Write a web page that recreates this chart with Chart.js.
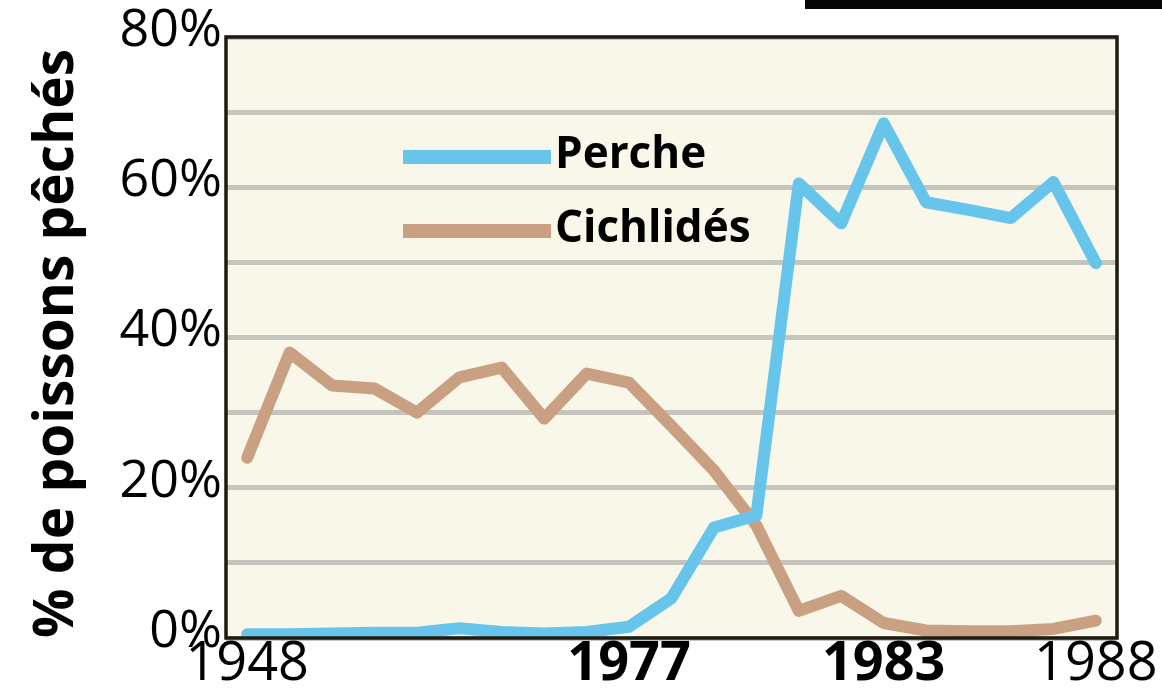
<!DOCTYPE html>
<html>
<head>
<meta charset="utf-8">
<script src="https://cdn.jsdelivr.net/npm/chart.js@4"></script>
<style>
  html, body { margin: 0; padding: 0; background: #fff; }
  #wrap { position: relative; width: 1162px; height: 688px; }
  #bar { position: absolute; left: 805px; top: 0; width: 357px; height: 9px; background: #060606; }
</style>
</head>
<body>
<div id="wrap">
  <canvas id="fishChart" width="1162" height="688"></canvas>
  <div id="bar"></div>
</div>
<script>
// x categories (only some years are labelled on the original)
const years = ['1948', '', '', '', '', '', '', '', '', '1977', '1978', '1979', '1980', '1981', '1982', '1983', '1984', '1985', '1986', '1987', '1988'];
const shownYears = ['1948', '1977', '1983', '1988'];
const boldYears = ['1977', '1983'];

// % of fish caught
const perche = [0.5, 0.5, 0.6, 0.7, 0.7, 1.3, 0.8, 0.6, 0.8, 1.5, 5.3, 14.7, 16.3, 60.5, 55.2, 68.5, 58, 57, 55.9, 60.7, 49.9];
const cichlides = [24, 38, 33.6, 33.2, 30, 34.7, 36, 29.2, 35.2, 34, 28.2, 22.3, 15, 3.6, 5.6, 2, 1, 0.9, 0.9, 1.2, 2.3];

const yTicks = [0, 20, 40, 60, 80];

const FONT = "'Open Sans', 'DejaVu Sans', sans-serif";

// cream background + black frame round the plot
const plotFrame = {
  id: 'plotFrame',
  beforeDraw(chart) {
    const { ctx, chartArea: a } = chart;
    ctx.save();
    ctx.fillStyle = '#f9f7e9';
    ctx.fillRect(a.left, a.top, a.right - a.left, a.bottom - a.top);
    ctx.restore();
  },
  afterDatasetsDraw(chart) {
    const { ctx, chartArea: a } = chart;
    ctx.save();
    ctx.strokeStyle = '#201a10';
    ctx.lineWidth = 3.5;
    ctx.strokeRect(a.left, a.top, a.right - a.left, a.bottom - a.top);
    ctx.restore();
  }
};

// legend sits inside the plot, thick line then bold label
const inlineLegend = {
  id: 'inlineLegend',
  afterDraw(chart, args, opts) {
    const ctx = chart.ctx;
    ctx.save();
    chart.data.datasets.forEach((ds, i) => {
      const y = opts.y[i];
      ctx.strokeStyle = ds.borderColor;
      ctx.lineWidth = 14;
      ctx.lineCap = 'butt';
      ctx.beginPath();
      ctx.moveTo(opts.x0, y);
      ctx.lineTo(opts.x1, y);
      ctx.stroke();
      ctx.fillStyle = '#000';
      ctx.font = 'bold 44px ' + FONT;
      ctx.textBaseline = 'middle';
      ctx.textAlign = 'left';
      ctx.fillText(ds.label, opts.x1 + 4, y - 2);
    });
    ctx.restore();
  }
};

const data = {
  labels: years,
  datasets: [{
    label: 'Perche',
    data: perche,
    borderColor: '#67c5eb',
  }, {
    label: 'Cichlidés',
    data: cichlides,
    borderColor: '#c9a182',
  }]
};

const config = {
  type: 'line',
  data: data,
  options: {
    responsive: false,
    animation: false,
    devicePixelRatio: 1,
    layout: { padding: { top: 37, right: 45, left: 0, bottom: 0 } },
    elements: {
      line: { borderWidth: 12, tension: 0, borderCapStyle: 'round', borderJoinStyle: 'round' },
      point: { radius: 0 }
    },
    plugins: {
      legend: { display: false },
      tooltip: { enabled: false },
      inlineLegend: { x0: 403, x1: 551, y: [157, 231] }
    },
    scales: {
      x: {
        offset: true,
        grid: { display: false, drawTicks: false },
        border: { display: false },
        afterFit: s => { s.height = 50; },
        ticks: {
          autoSkip: false,
          maxRotation: 0,
          padding: 0,
          color: '#000',
          callback: (v, i) => shownYears.includes(years[i]) ? years[i] : '',
          font: ctx => ({
            family: FONT,
            size: 54,
            lineHeight: 1,
            weight: boldYears.includes(years[ctx.index]) ? 'bold' : 'normal'
          })
        }
      },
      y: {
        min: 0,
        max: 80,
        afterFit: s => { s.width = 226; },
        grid: { color: '#c6c5bd', lineWidth: 5, drawTicks: false },
        border: { display: false },
        ticks: {
          stepSize: 10,
          padding: 4,
          labelOffset: -6,
          color: '#000',
          font: { family: FONT, size: 52 },
          callback: v => yTicks.includes(v) ? v + '%' : ''
        },
        title: {
          display: true,
          text: '% de poissons pêchés',
          align: 'start',
          color: '#000',
          font: { family: FONT, size: 55, weight: 'bold' },
          padding: { top: 24, bottom: 0 }
        }
      }
    }
  },
  plugins: [plotFrame, inlineLegend]
};

const fishChart = new Chart(document.getElementById('fishChart'), config);
</script>
</body>
</html>
